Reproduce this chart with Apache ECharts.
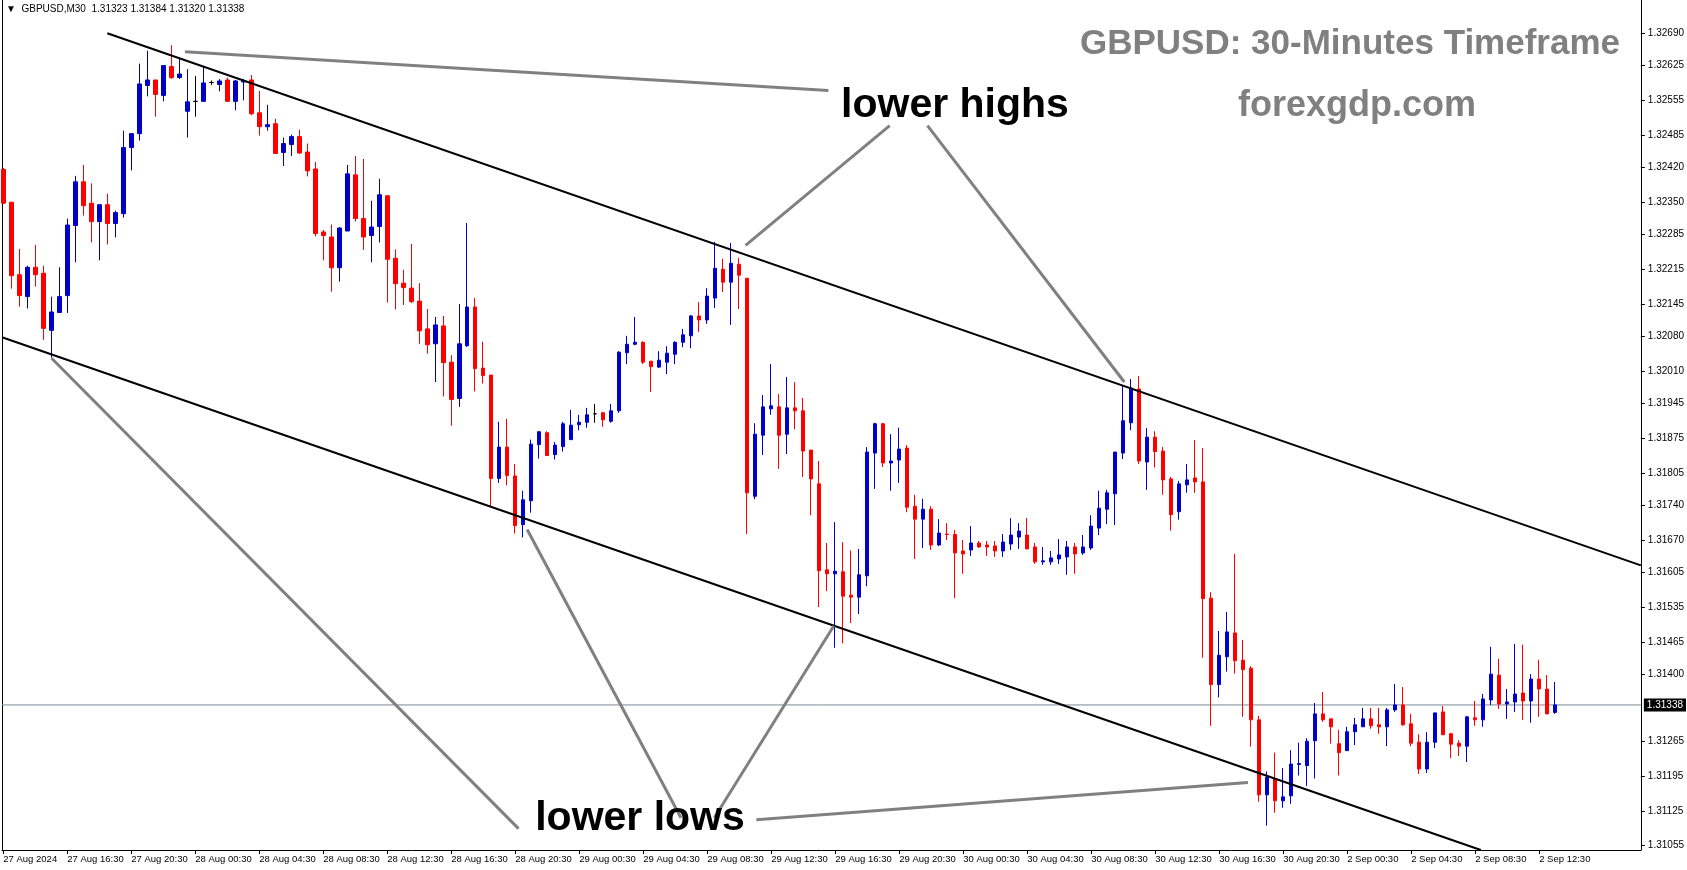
<!DOCTYPE html>
<html>
<head>
<meta charset="utf-8">
<script src="https://cdn.jsdelivr.net/npm/echarts@6.0.0/dist/echarts.min.js"></script>
<style>
  html, body { margin: 0; padding: 0; background: #fff; }
  #chart { width: 1687px; height: 870px; }
</style>
</head>
<body>
<div id="chart"></div>
<script>
  // GBPUSD M30, one value per bar (bar 0 = 27 Aug 12:30)
  var opens = [
    1.32416, 1.32350, 1.32204, 1.32160, 1.32219, 1.32207, 1.32092, 1.32128, 1.32162, 1.32303,
    1.32391, 1.32348, 1.32311, 1.32345, 1.32307, 1.32327, 1.32460, 1.32488, 1.32585, 1.32596,
    1.32565, 1.32623, 1.32601, 1.32533, 1.32553, 1.32553, 1.32591, 1.32587, 1.32596, 1.32553,
    1.32592, 1.32596, 1.32530, 1.32502, 1.32508, 1.32450, 1.32466, 1.32482, 1.32451, 1.32417,
    1.32290, 1.32280, 1.32218, 1.32292, 1.32405, 1.32317, 1.32283, 1.32301, 1.32363, 1.32237,
    1.32187, 1.32177, 1.32151, 1.32095, 1.32065, 1.32101, 1.32028, 1.31955, 1.32061, 1.32139,
    1.32016, 1.32002, 1.31794, 1.31857, 1.31799, 1.31701, 1.31749, 1.31862, 1.31886, 1.31842,
    1.31858, 1.31872, 1.31902, 1.31907, 1.31924, 1.31926, 1.31909, 1.31930, 1.32047, 1.32064,
    1.32068, 1.32030, 1.32018, 1.32028, 1.32044, 1.32068, 1.32081, 1.32121, 1.32113, 1.32157,
    1.32215, 1.32189, 1.32225, 1.32197, 1.31758, 1.31881, 1.31934, 1.31938, 1.31883, 1.31936,
    1.31930, 1.31851, 1.31783, 1.31610, 1.31602, 1.31606, 1.31559, 1.31555, 1.31598, 1.31845,
    1.31904, 1.31825, 1.31831, 1.31855, 1.31738, 1.31712, 1.31732, 1.31660, 1.31682, 1.31681,
    1.31648, 1.31650, 1.31664, 1.31660, 1.31658, 1.31648, 1.31662, 1.31676, 1.31680, 1.31656,
    1.31626, 1.31626, 1.31632, 1.31636, 1.31656, 1.31644, 1.31654, 1.31694, 1.31732, 1.31763,
    1.31845, 1.31906, 1.31974, 1.31827, 1.31877, 1.31849, 1.31793, 1.31727, 1.31781, 1.31795,
    1.31787, 1.31553, 1.31379, 1.31435, 1.31483, 1.31428, 1.31412, 1.31308, 1.31157, 1.31190,
    1.31145, 1.31155, 1.31218, 1.31216, 1.31266, 1.31320, 1.31310, 1.31260, 1.31246, 1.31284,
    1.31294, 1.31310, 1.31298, 1.31294, 1.31328, 1.31338, 1.31300, 1.31263, 1.31209, 1.31263,
    1.31324, 1.31280, 1.31261, 1.31255, 1.31312, 1.31308, 1.31348, 1.31398, 1.31340, 1.31344,
    1.31362, 1.31346, 1.31390, 1.31370, 1.31323
  ];
  var closes = [
    1.32348, 1.32202, 1.32162, 1.32219, 1.32204, 1.32096, 1.32129, 1.32160, 1.32304, 1.32391,
    1.32343, 1.32311, 1.32345, 1.32307, 1.32329, 1.32460, 1.32488, 1.32588, 1.32596, 1.32567,
    1.32625, 1.32601, 1.32608, 1.32552, 1.32553, 1.32590, 1.32591, 1.32594, 1.32553, 1.32594,
    1.32594, 1.32528, 1.32502, 1.32506, 1.32448, 1.32468, 1.32482, 1.32449, 1.32413, 1.32287,
    1.32283, 1.32218, 1.32298, 1.32407, 1.32317, 1.32280, 1.32300, 1.32365, 1.32235, 1.32186,
    1.32178, 1.32150, 1.32091, 1.32063, 1.32103, 1.32027, 1.31953, 1.32065, 1.32139, 1.32015,
    1.32001, 1.31794, 1.31857, 1.31800, 1.31699, 1.31751, 1.31863, 1.31888, 1.31840, 1.31861,
    1.31904, 1.31901, 1.31907, 1.31922, 1.31924, 1.31912, 1.31930, 1.32048, 1.32064, 1.32068,
    1.32028, 1.32019, 1.32032, 1.32046, 1.32068, 1.32083, 1.32121, 1.32113, 1.32161, 1.32217,
    1.32189, 1.32227, 1.32203, 1.31765, 1.31883, 1.31938, 1.31940, 1.31881, 1.31936, 1.31930,
    1.31849, 1.31793, 1.31608, 1.31602, 1.31607, 1.31557, 1.31555, 1.31600, 1.31847, 1.31904,
    1.31825, 1.31829, 1.31853, 1.31736, 1.31712, 1.31732, 1.31660, 1.31684, 1.31681, 1.31644,
    1.31642, 1.31664, 1.31656, 1.31656, 1.31648, 1.31666, 1.31680, 1.31688, 1.31652, 1.31626,
    1.31628, 1.31634, 1.31640, 1.31656, 1.31642, 1.31656, 1.31698, 1.31734, 1.31765, 1.31847,
    1.31910, 1.31976, 1.31829, 1.31877, 1.31848, 1.31791, 1.31721, 1.31783, 1.31791, 1.31787,
    1.31552, 1.31379, 1.31438, 1.31485, 1.31427, 1.31409, 1.31308, 1.31157, 1.31192, 1.31145,
    1.31153, 1.31219, 1.31220, 1.31265, 1.31320, 1.31308, 1.31294, 1.31242, 1.31284, 1.31298,
    1.31310, 1.31296, 1.31294, 1.31328, 1.31338, 1.31298, 1.31261, 1.31209, 1.31263, 1.31322,
    1.31278, 1.31259, 1.31255, 1.31314, 1.31308, 1.31350, 1.31400, 1.31340, 1.31344, 1.31360,
    1.31346, 1.31390, 1.31370, 1.31320, 1.31338
  ];
  var lows = [
    1.32347, 1.32176, 1.32140, 1.32136, 1.32180, 1.32073, 1.32037, 1.32127, 1.32127, 1.32229,
    1.32323, 1.32269, 1.32233, 1.32265, 1.32279, 1.32319, 1.32414, 1.32474, 1.32563, 1.32522,
    1.32553, 1.32598, 1.32598, 1.32480, 1.32522, 1.32553, 1.32586, 1.32573, 1.32553, 1.32535,
    1.32555, 1.32525, 1.32484, 1.32494, 1.32447, 1.32423, 1.32443, 1.32447, 1.32402, 1.32281,
    1.32233, 1.32170, 1.32190, 1.32292, 1.32311, 1.32254, 1.32229, 1.32269, 1.32148, 1.32134,
    1.32143, 1.32147, 1.32065, 1.32045, 1.31988, 1.31959, 1.31900, 1.31938, 1.32059, 1.31969,
    1.31985, 1.31737, 1.31785, 1.31780, 1.31683, 1.31675, 1.31725, 1.31834, 1.31840, 1.31832,
    1.31848, 1.31872, 1.31891, 1.31896, 1.31906, 1.31898, 1.31906, 1.31926, 1.32024, 1.32062,
    1.32024, 1.31968, 1.32016, 1.32004, 1.32024, 1.32058, 1.32056, 1.32089, 1.32105, 1.32137,
    1.32169, 1.32103, 1.32135, 1.31682, 1.31752, 1.31841, 1.31922, 1.31813, 1.31843, 1.31893,
    1.31797, 1.31720, 1.31535, 1.31567, 1.31453, 1.31462, 1.31503, 1.31521, 1.31577, 1.31773,
    1.31817, 1.31769, 1.31785, 1.31726, 1.31632, 1.31654, 1.31650, 1.31658, 1.31670, 1.31553,
    1.31602, 1.31638, 1.31654, 1.31638, 1.31636, 1.31636, 1.31650, 1.31652, 1.31652, 1.31622,
    1.31620, 1.31620, 1.31622, 1.31600, 1.31602, 1.31640, 1.31650, 1.31680, 1.31702, 1.31700,
    1.31833, 1.31891, 1.31823, 1.31771, 1.31816, 1.31761, 1.31689, 1.31711, 1.31765, 1.31765,
    1.31433, 1.31296, 1.31353, 1.31405, 1.31401, 1.31314, 1.31254, 1.31143, 1.31095, 1.31121,
    1.31131, 1.31139, 1.31196, 1.31175, 1.31190, 1.31304, 1.31260, 1.31196, 1.31246, 1.31257,
    1.31294, 1.31290, 1.31280, 1.31255, 1.31324, 1.31296, 1.31255, 1.31199, 1.31201, 1.31251,
    1.31278, 1.31231, 1.31235, 1.31223, 1.31296, 1.31294, 1.31338, 1.31330, 1.31310, 1.31324,
    1.31308, 1.31302, 1.31314, 1.31320, 1.31320
  ];
  var highs = [
    1.32419, 1.32350, 1.32256, 1.32222, 1.32264, 1.32222, 1.32160, 1.32219, 1.32317, 1.32403,
    1.32425, 1.32388, 1.32345, 1.32367, 1.32333, 1.32494, 1.32489, 1.32629, 1.32655, 1.32596,
    1.32625, 1.32666, 1.32639, 1.32618, 1.32604, 1.32622, 1.32595, 1.32598, 1.32601, 1.32596,
    1.32598, 1.32606, 1.32574, 1.32546, 1.32518, 1.32480, 1.32486, 1.32496, 1.32468, 1.32431,
    1.32294, 1.32305, 1.32300, 1.32425, 1.32443, 1.32437, 1.32353, 1.32397, 1.32363, 1.32255,
    1.32214, 1.32266, 1.32187, 1.32135, 1.32119, 1.32121, 1.32042, 1.32145, 1.32308, 1.32157,
    1.32069, 1.32002, 1.31908, 1.31914, 1.31823, 1.31769, 1.31872, 1.31888, 1.31889, 1.31867,
    1.31908, 1.31932, 1.31922, 1.31936, 1.31944, 1.31928, 1.31944, 1.32050, 1.32081, 1.32119,
    1.32070, 1.32030, 1.32050, 1.32060, 1.32070, 1.32095, 1.32123, 1.32149, 1.32177, 1.32270,
    1.32236, 1.32268, 1.32238, 1.32197, 1.31905, 1.31962, 1.32024, 1.31964, 1.31998, 1.31988,
    1.31956, 1.31851, 1.31829, 1.31664, 1.31706, 1.31666, 1.31649, 1.31652, 1.31857, 1.31906,
    1.31906, 1.31883, 1.31896, 1.31861, 1.31761, 1.31753, 1.31738, 1.31712, 1.31704, 1.31690,
    1.31670, 1.31698, 1.31668, 1.31668, 1.31668, 1.31682, 1.31714, 1.31704, 1.31714, 1.31664,
    1.31656, 1.31648, 1.31672, 1.31668, 1.31664, 1.31680, 1.31720, 1.31769, 1.31771, 1.31847,
    1.31980, 1.31994, 1.32000, 1.31895, 1.31889, 1.31857, 1.31797, 1.31789, 1.31823, 1.31871,
    1.31855, 1.31565, 1.31487, 1.31525, 1.31642, 1.31469, 1.31416, 1.31316, 1.31204, 1.31242,
    1.31211, 1.31247, 1.31262, 1.31271, 1.31342, 1.31364, 1.31310, 1.31288, 1.31294, 1.31312,
    1.31332, 1.31332, 1.31332, 1.31332, 1.31380, 1.31374, 1.31320, 1.31279, 1.31283, 1.31322,
    1.31336, 1.31282, 1.31267, 1.31316, 1.31346, 1.31360, 1.31455, 1.31431, 1.31370, 1.31461,
    1.31459, 1.31400, 1.31429, 1.31398, 1.31384
  ];

  // time axis labels, one every 8 bars
  var tickLabels = [
    '27 Aug 2024', '27 Aug 16:30', '27 Aug 20:30', '28 Aug 00:30', '28 Aug 04:30',
    '28 Aug 08:30', '28 Aug 12:30', '28 Aug 16:30', '28 Aug 20:30', '29 Aug 00:30',
    '29 Aug 04:30', '29 Aug 08:30', '29 Aug 12:30', '29 Aug 16:30', '29 Aug 20:30',
    '30 Aug 00:30', '30 Aug 04:30', '30 Aug 08:30', '30 Aug 12:30', '30 Aug 16:30',
    '30 Aug 20:30', '2 Sep 00:30', '2 Sep 04:30', '2 Sep 08:30', '2 Sep 12:30'
  ];
  var priceTicks = [
    1.32690, 1.32625, 1.32555, 1.32485, 1.32420, 1.32350, 1.32285, 1.32215, 1.32145, 1.32080,
    1.32010, 1.31945, 1.31875, 1.31805, 1.31740, 1.31670, 1.31605, 1.31535, 1.31465, 1.31400,
    1.31265, 1.31195, 1.31125, 1.31055
  ];

  // channel lines [bar, price]
  var upperChannel = [[13.0, 1.32690], [204.71, 1.31619]];
  var lowerChannel = [[-0.16, 1.32078], [184.7, 1.31046]];
  // grey pointer lines
  var pointers = [
    [[22.71, 1.32653], [103.15, 1.32575]],
    [[110.81, 1.32504], [92.79, 1.32263]],
    [[115.53, 1.32504], [140.14, 1.31988]],
    [[6.04, 1.32036], [64.41, 1.31089]],
    [[65.49, 1.31691], [84.71, 1.31111]],
    [[88.89, 1.31111], [103.81, 1.31497]],
    [[94.14, 1.31107], [155.59, 1.31182]]
  ];

  var xMin = -0.16, xMax = 204.71;
  var yMin = 1.31046, yMax = 1.32757;
  var last = opens.length - 1;
  var lastClose = closes[last];
  var tickBars = tickLabels.map(function (t, k) { return k * 8; });

  var candles = opens.map(function (o, i) {
    return [i, o, closes[i], lows[i], highs[i]];
  });

  var series = [{
    // current price line with the black price box on the axis
    type: 'line',
    data: [[xMin, lastClose], [xMax, lastClose]],
    symbol: 'none',
    silent: true,
    z: 1,
    lineStyle: { color: '#7a8896', width: 1 },
    endLabel: {
      show: true,
      distance: 3,
      formatter: lastClose.toFixed(5),
      backgroundColor: '#000',
      color: '#fff',
      fontSize: 10,
      fontFamily: 'Liberation Sans',
      padding: [2, 3, 1, 3]
    }
  }, {
    type: 'candlestick',
    data: candles,
    barWidth: 4,
    itemStyle: {
      color: '#0000cd',
      color0: '#ff0000',
      borderColor: '#0000cd',
      borderColor0: '#ff0000',
      borderColorDoji: '#000000',
      borderWidth: 1
    },
    z: 2
  }];

  [upperChannel, lowerChannel].forEach(function (seg) {
    series.push({
      type: 'line', data: seg, symbol: 'none', silent: true, z: 5,
      lineStyle: { color: '#000', width: 2 }
    });
  });
  pointers.forEach(function (seg) {
    series.push({
      type: 'line', data: seg, symbol: 'none', silent: true, z: 6,
      lineStyle: { color: '#808080', width: 3 }
    });
  });

  var myChart = echarts.init(document.getElementById('chart'));
  var option = {
    animation: false,
    backgroundColor: '#fff',
    grid: { left: 2, right: 46, top: 0, bottom: 20 },
    xAxis: {
      type: 'value',
      min: xMin,
      max: xMax,
      axisLine: { show: true, onZero: false, lineStyle: { color: '#000', width: 1 } },
      axisTick: { show: true, customValues: tickBars, length: 4, lineStyle: { color: '#000' } },
      axisLabel: {
        customValues: tickBars,
        formatter: function (v) { return tickLabels[Math.round(v / 8)]; },
        align: 'left',
        margin: 4,
        fontSize: 9.5,
        fontFamily: 'Liberation Sans',
        color: '#000'
      },
      splitLine: { show: false }
    },
    yAxis: [{
      type: 'value',
      position: 'right',
      min: yMin,
      max: yMax,
      axisLine: { show: true, onZero: false, lineStyle: { color: '#000', width: 1 } },
      axisTick: { show: true, customValues: priceTicks, length: 4, lineStyle: { color: '#000' } },
      axisLabel: {
        customValues: priceTicks,
        formatter: function (v) { return v.toFixed(5); },
        margin: 7,
        fontSize: 10,
        fontFamily: 'Liberation Sans',
        color: '#000'
      },
      splitLine: { show: false }
    }, {
      type: 'value',
      position: 'left',
      min: yMin,
      max: yMax,
      axisLine: { show: true, onZero: false, lineStyle: { color: '#000', width: 1 } },
      axisTick: { show: false },
      axisLabel: { show: false },
      splitLine: { show: false }
    }],
    graphic: [
      {
        type: 'text', left: 6, top: 4,
        style: {
          text: '\u25BC  GBPUSD,M30  ' + opens[last].toFixed(5) + ' ' + highs[last].toFixed(5) + ' ' +
            lows[last].toFixed(5) + ' ' + lastClose.toFixed(5),
          font: '10px "Liberation Sans", "DejaVu Sans"', fill: '#000'
        }
      },
      {
        type: 'text', x: 1350, y: 44,
        style: {
          text: 'GBPUSD: 30-Minutes Timeframe', textAlign: 'center', textVerticalAlign: 'middle',
          font: 'bold 35px "Liberation Sans"', fill: '#808080'
        }
      },
      {
        type: 'text', x: 1357, y: 106,
        style: {
          text: 'forexgdp.com', textAlign: 'center', textVerticalAlign: 'middle',
          font: 'bold 36px "Liberation Sans"', fill: '#808080'
        }
      },
      {
        type: 'text', x: 955, y: 106, z: 10,
        style: {
          text: 'lower highs', textAlign: 'center', textVerticalAlign: 'middle',
          font: 'bold 41px "Liberation Sans"', fill: '#000'
        }
      },
      {
        type: 'text', x: 640, y: 819, z: 10,
        style: {
          text: 'lower lows', textAlign: 'center', textVerticalAlign: 'middle',
          font: 'bold 41px "Liberation Sans"', fill: '#000'
        }
      }
    ],
    series: series
  };
  myChart.setOption(option);
</script>
</body>
</html>
